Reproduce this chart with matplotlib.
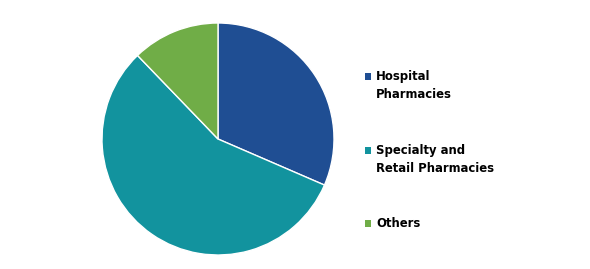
import matplotlib
matplotlib.use("Agg")
import matplotlib.pyplot as plt
from matplotlib.patches import Rectangle

categories = ["Hospital\nPharmacies", "Specialty and\nRetail Pharmacies", "Others"]
values = [31.5, 56.3, 12.2]
colors = ["#1F4E93", "#12939E", "#70AD47"]

W, H = 590, 269
fig = plt.figure(figsize=(W / 100, H / 100), dpi=100)
cx, cy, r = 218, 139, 116
ax = fig.add_axes([(cx - r) / W, (H - cy - r) / H, 2 * r / W, 2 * r / H])
ax.pie(values, colors=colors, startangle=90, counterclock=False, radius=1,
       wedgeprops=dict(edgecolor="white", linewidth=1))
ax.set_xlim(-1, 1)
ax.set_ylim(-1, 1)
ax.set_aspect("equal")
ax.axis("off")

label_y = [76, 150, 223]
for lab, col, y in zip(categories, colors, label_y):
    fig.patches.append(Rectangle((364.5 / W, (H - y - 3.5) / H), 6.5 / W, 6.5 / H,
                                 transform=fig.transFigure, facecolor=col, edgecolor="none"))
    fig.text(376 / W, (H - y + 6) / H, lab, ha="left", va="top", fontsize=8.4,
             fontweight="bold", family="DejaVu Sans", color="black", linespacing=1.5)

fig.savefig("out.png", dpi=100)
